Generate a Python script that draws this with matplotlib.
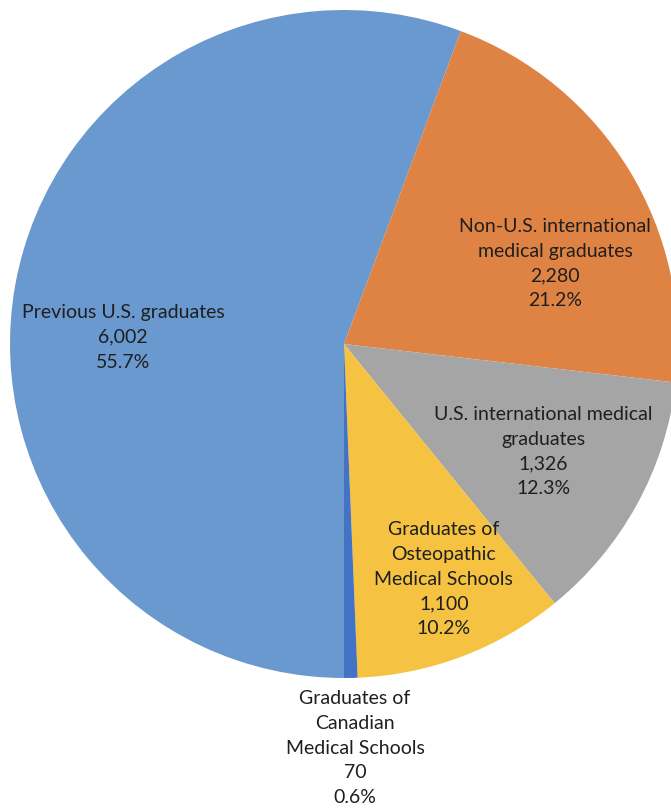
import matplotlib
matplotlib.use("Agg")
import matplotlib.pyplot as plt

# graduates by type of school
categories = [
    "Previous U.S. graduates",
    "Non-U.S. international\nmedical graduates",
    "U.S. international medical\ngraduates",
    "Graduates of\nOsteopathic\nMedical Schools",
    "Graduates of\nCanadian\nMedical Schools",
]
counts = [6002, 2280, 1326, 1100, 70]
colors = ["#6A99D0", "#DF8344", "#A5A5A5", "#F5C242", "#4472C4"]

# label centres, in units of the pie radius
label_pos = [(-0.662, 0.020), (0.632, 0.240), (0.596, -0.323),
             (0.299, -0.704), (0.033, -1.210)]

plt.rcParams['font.family'] = ['Lato', 'DejaVu Sans']

fig = plt.figure(figsize=(6.71, 8.10), dpi=100)
ax = fig.add_axes([0, 0, 1, 1])

ax.pie(counts, colors=colors, startangle=270, counterclock=False,
       radius=1.0, wedgeprops=dict(linewidth=0))

total = sum(counts)
for name, n, (x, y) in zip(categories, counts, label_pos):
    pct = 100.0 * n / total
    ax.text(x, y, f"{name}\n{n:,}\n{pct:.1f}%", ha="center", va="center",
            fontsize=14, color="#1F1F1F", linespacing=1.55)

ax.set_xlim(-344 / 334, 327 / 334)
ax.set_ylim(-466 / 334, 344 / 334)
ax.set_aspect("auto")
ax.axis("off")

fig.savefig("out.png", dpi=100)
